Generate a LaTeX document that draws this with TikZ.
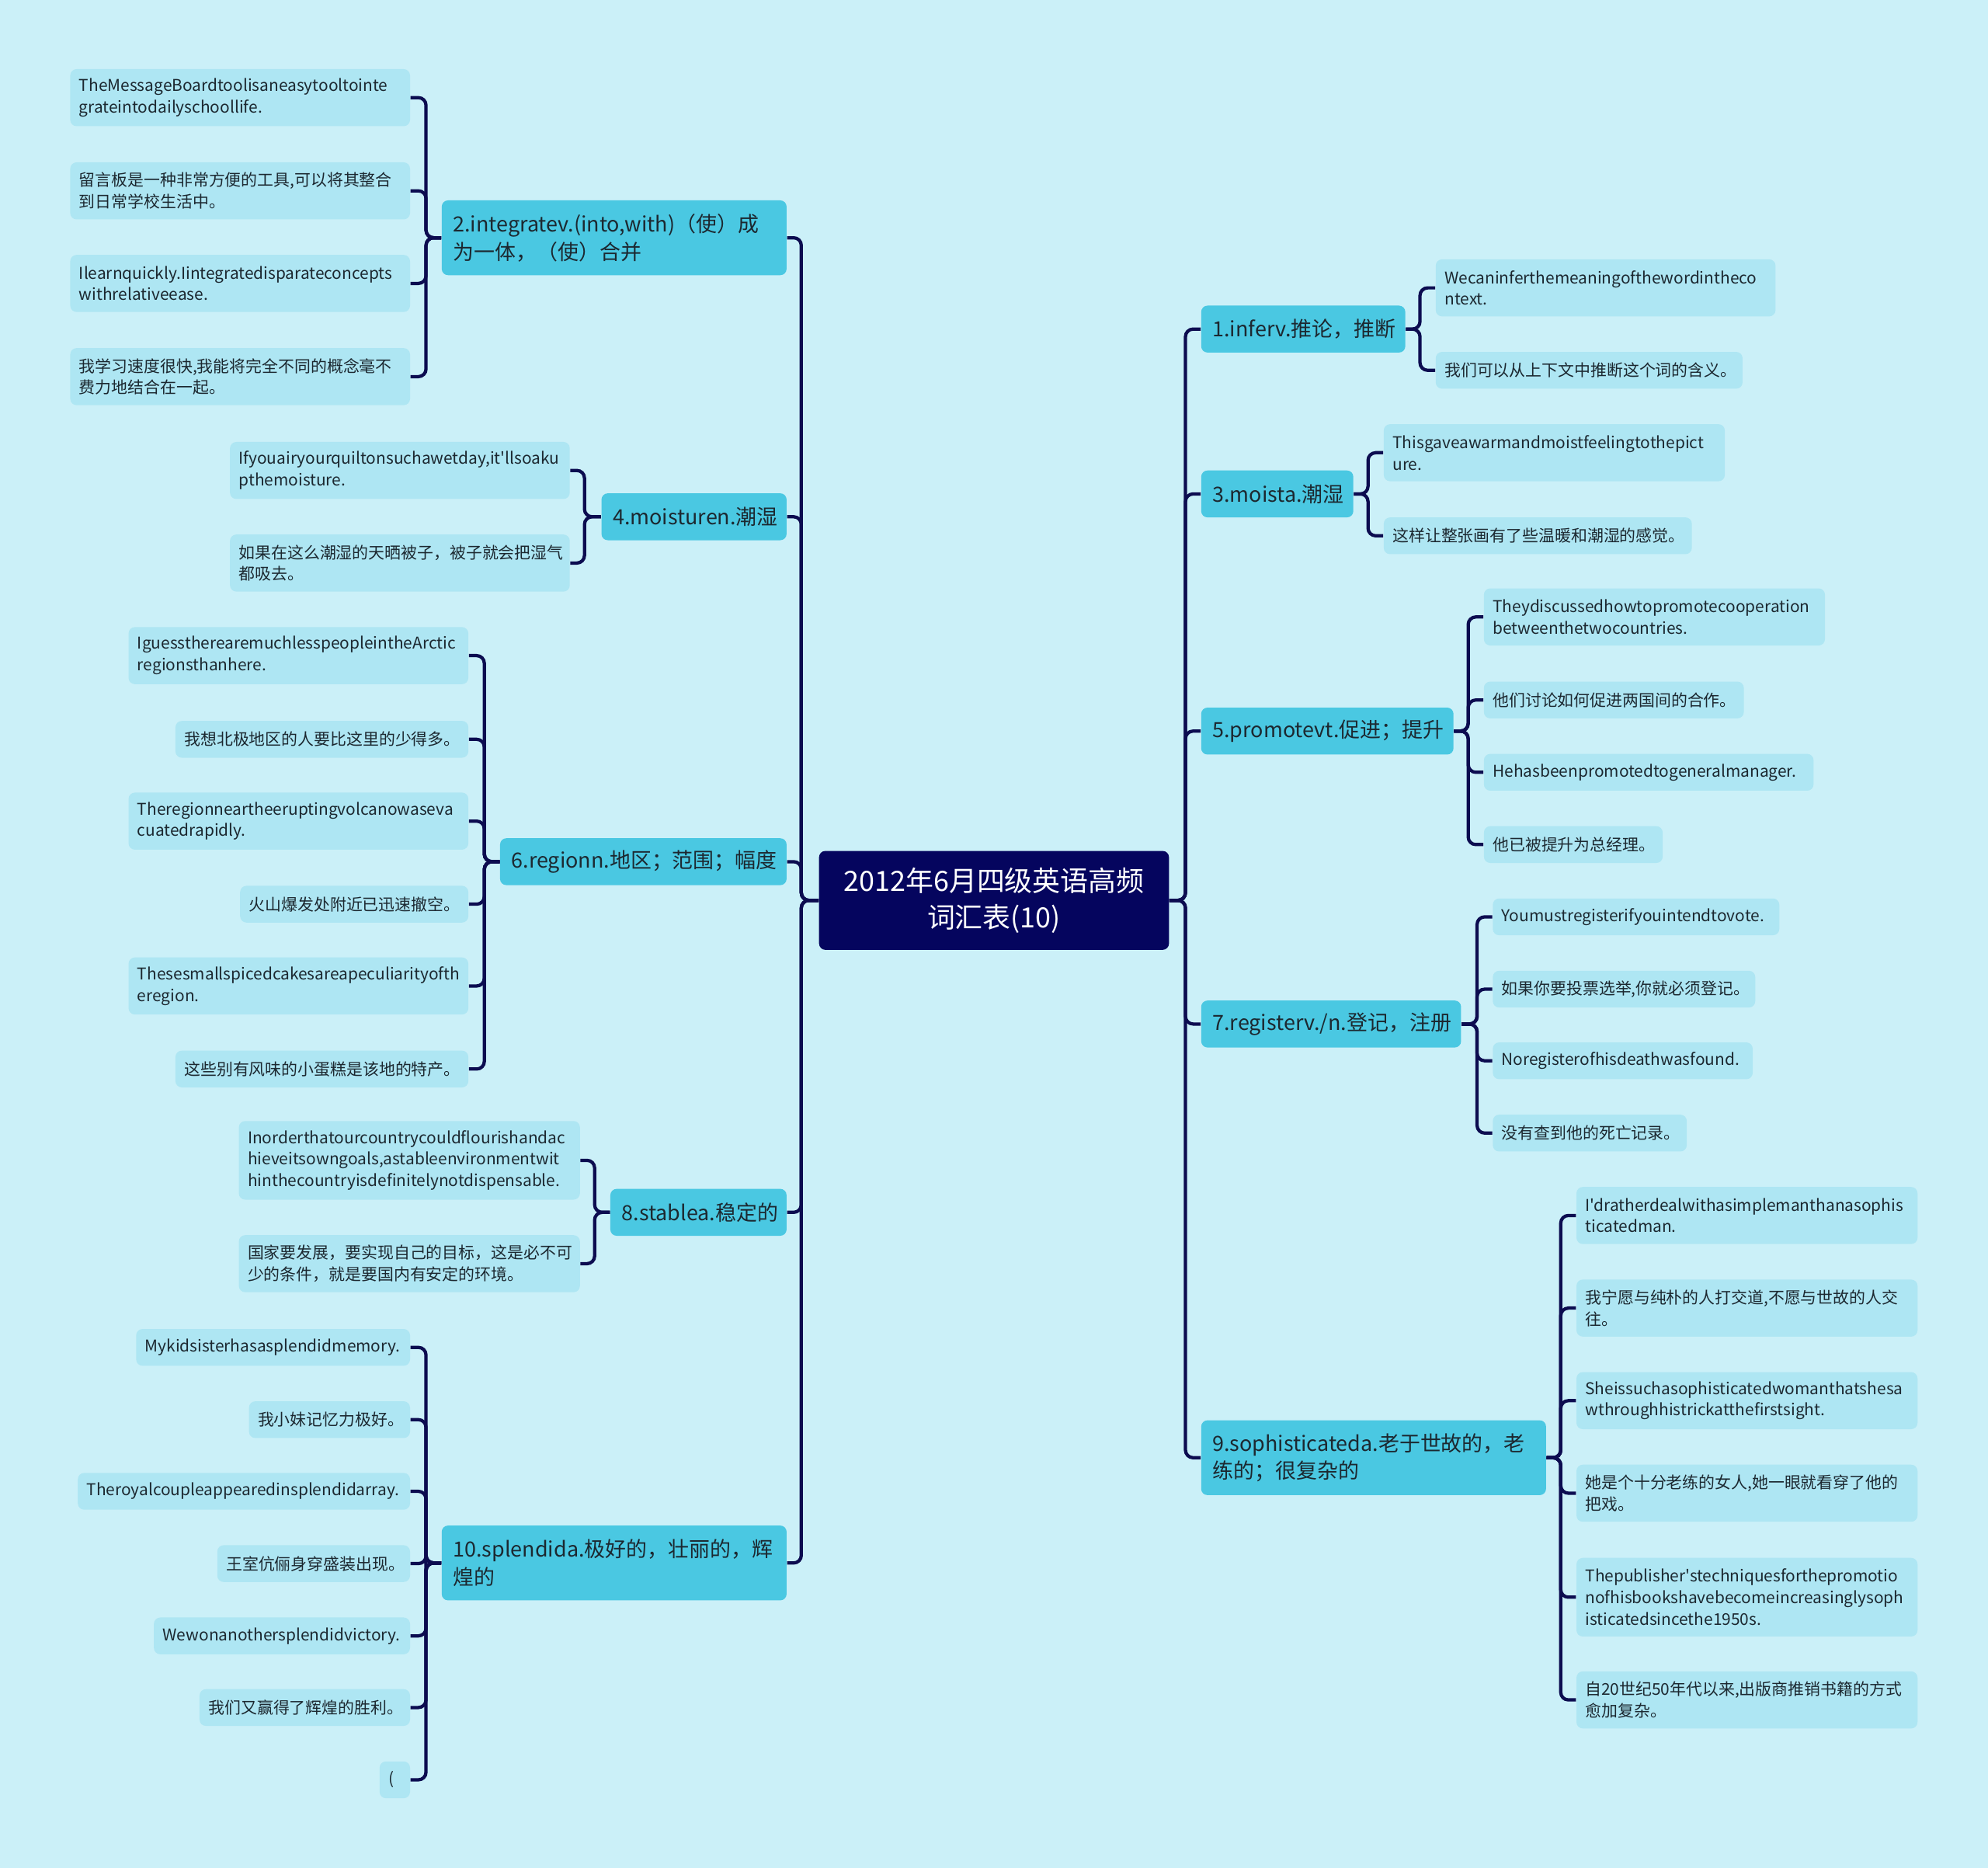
\documentclass[tikz,border=0pt]{standalone}
\usepackage{fontspec}
\newfontfamily\cjk{Noto Sans CJK SC}
\definecolor{bg}{HTML}{CBF0F8}
\definecolor{leaffill}{HTML}{AEE6F3}
\definecolor{branchfill}{HTML}{4AC8E2}
\definecolor{rootfill}{HTML}{05055E}
\definecolor{linec}{HTML}{0C0C50}
\definecolor{txt}{HTML}{1C2830}
\begin{document}
\begin{tikzpicture}[x=0.5pt,y=-0.5pt,
  box/.style={rectangle, rounded corners=2.5pt, inner ysep=0pt, align=left, anchor=west, text=txt},
  leaf/.style={box, fill=leaffill, inner xsep=3.5pt, font=\cjk\fontsize{6.4pt}{8.5pt}\selectfont},
  br/.style={box, fill=branchfill, inner xsep=4.5pt, font=\cjk\fontsize{8.25pt}{11pt}\selectfont},
  lw/.code={\pgfmathsetmacro\tw{#1-7}\edef\tmp{\noexpand\pgfkeysalso{minimum width=#1pt,text width=\tw pt}}\tmp},
  bw/.code={\pgfmathsetmacro\tw{#1-9}\edef\tmp{\noexpand\pgfkeysalso{minimum width=#1pt,text width=\tw pt}}\tmp},
  h1/.style={minimum height=14.5pt},
  h2/.style={minimum height=22.5pt},
  h3/.style={minimum height=31pt},
  bh1/.style={minimum height=18.5pt},
  bh2/.style={minimum height=29.5pt},
  rootbox/.style={rectangle, rounded corners=2.5pt, fill=rootfill, text=white, align=center,
     minimum width=138pt, minimum height=39pt, inner sep=0pt, font=\cjk\fontsize{11pt}{14.5pt}\selectfont},
  conn/.style={draw=linec, line width=1.3pt, rounded corners=3pt},
]
\fill[bg] (0,0) rectangle (1568,1473);
\useasboundingbox (0,0) rectangle (1568,1473);

% root
\node[rootbox] (root) at (784,710) {2012年6月四级英语高频\\词汇表(10)};

% left branches
\node[br, bw=136, bh2] (b2) at (348,187.5) {2.integratev.(into,with)（使）成\\为一体，（使）合并};
\node[br, bw=73, bh1] (b4) at (474,407.5) {4.moisturen.潮湿};
\node[br, bw=113, bh1] (b6) at (394,679.5) {6.regionn.地区；范围；幅度};
\node[br, bw=69.5, bh1] (b8) at (481,956) {8.stablea.稳定的};
\node[br, bw=136, bh2] (b10) at (348,1232.5) {10.splendida.极好的，壮丽的，辉\\煌的};

% right branches
\node[br, bw=80.5, bh1] (b1) at (947,259.5) {1.inferv.推论，推断};
\node[br, bw=60, bh1] (b3) at (947,389.5) {3.moista.潮湿};
\node[br, bw=99.5, bh1] (b5) at (947,576.5) {5.promotevt.促进；提升};
\node[br, bw=102.5, bh1] (b7) at (947,807.5) {7.registerv./n.登记，注册};
\node[br, bw=136, bh2] (b9) at (947,1149.5) {9.sophisticateda.老于世故的，老\\练的；很复杂的};

% left leaves
\node[leaf, lw=134, h2] (l2a) at (55,77) {TheMessageBoardtoolisaneasytooltointe\\grateintodailyschoollife.};
\node[leaf, lw=134, h2] (l2b) at (55,150.5) {留言板是一种非常方便的工具,可以将其整合\\到日常学校生活中。};
\node[leaf, lw=134, h2] (l2c) at (55,223.5) {Ilearnquickly.Iintegratedisparateconcepts\\withrelativeease.};
\node[leaf, lw=134, h2] (l2d) at (55,297) {我学习速度很快,我能将完全不同的概念毫不\\费力地结合在一起。};

\node[leaf, lw=134, h2] (l4a) at (181,371) {Ifyouairyourquiltonsuchawetday,it'llsoaku\\pthemoisture.};
\node[leaf, lw=134, h2] (l4b) at (181,444) {如果在这么潮湿的天晒被子，被子就会把湿气\\都吸去。};

\node[leaf, lw=134, h2] (l6a) at (101,517) {IguesstherearemuchlesspeopleintheArctic\\regionsthanhere.};
\node[leaf, lw=115.5, h1] (l6b) at (138,583) {我想北极地区的人要比这里的少得多。};
\node[leaf, lw=134, h2] (l6c) at (101,647.5) {Theregionneartheeruptingvolcanowaseva\\cuatedrapidly.};
\node[leaf, lw=90, h1] (l6d) at (189,713) {火山爆发处附近已迅速撤空。};
\node[leaf, lw=134, h2] (l6e) at (101,777.5) {Thesesmallspicedcakesareapeculiarityofth\\eregion.};
\node[leaf, lw=115.5, h1] (l6f) at (138,843) {这些别有风味的小蛋糕是该地的特产。};

\node[leaf, lw=134.5, h3] (l8a) at (188,915) {Inorderthatourcountrycouldflourishandac\\hieveitsowngoals,astableenvironmentwit\\hinthecountryisdefinitelynotdispensable.};
\node[leaf, lw=134.5, h2] (l8b) at (188,996.5) {国家要发展，要实现自己的目标，这是必不可\\少的条件，就是要国内有安定的环境。};

\node[leaf, lw=108, h1] (l10a) at (107,1062.5) {Mykidsisterhasasplendidmemory.};
\node[leaf, lw=63.5, h1] (l10b) at (196,1119.5) {我小妹记忆力极好。};
\node[leaf, lw=131, h1] (l10c) at (61,1176) {Theroyalcoupleappearedinsplendidarray.};
\node[leaf, lw=76, h1] (l10d) at (171,1233) {王室伉俪身穿盛装出现。};
\node[leaf, lw=101, h1] (l10e) at (121,1290) {Wewonanothersplendidvictory.};
\node[leaf, lw=83, h1] (l10f) at (157,1346.5) {我们又赢得了辉煌的胜利。};
\node[leaf, lw=12, h1] (l10g) at (299,1403.5) {(};

% right leaves
\node[leaf, lw=134, h2] (r1a) at (1132,227) {Wecaninferthemeaningofthewordintheco\\ntext.};
\node[leaf, lw=121, h1] (r1b) at (1132,292) {我们可以从上下文中推断这个词的含义。};
\node[leaf, lw=134.5, h2] (r3a) at (1091,357) {Thisgaveawarmandmoistfeelingtothepict\\ure.};
\node[leaf, lw=121.5, h1] (r3b) at (1091,422.5) {这样让整张画有了些温暖和潮湿的感觉。};
\node[leaf, lw=134.5, h2] (r5a) at (1170,486.5) {Theydiscussedhowtopromotecooperation\\betweenthetwocountries.};
\node[leaf, lw=102.5, h1] (r5b) at (1170,552) {他们讨论如何促进两国间的合作。};
\node[leaf, lw=130, h1] (r5c) at (1170,609) {Hehasbeenpromotedtogeneralmanager.};
\node[leaf, lw=70.5, h1] (r5d) at (1170,666) {他已被提升为总经理。};
\node[leaf, lw=113, h1] (r7a) at (1177,723) {Youmustregisterifyouintendtovote.};
\node[leaf, lw=103.5, h1] (r7b) at (1177,780) {如果你要投票选举,你就必须登记。};
\node[leaf, lw=102.5, h1] (r7c) at (1177,836.5) {Noregisterofhisdeathwasfound.};
\node[leaf, lw=76.5, h1] (r7d) at (1177,893.5) {没有查到他的死亡记录。};
\node[leaf, lw=134.5, h2] (r9a) at (1243,958.5) {I'dratherdealwithasimplemanthanasophis\\ticatedman.};
\node[leaf, lw=134.5, h2] (r9b) at (1243,1031.5) {我宁愿与纯朴的人打交道,不愿与世故的人交\\往。};
\node[leaf, lw=134.5, h2] (r9c) at (1243,1104.5) {Sheissuchasophisticatedwomanthatshesa\\wthroughhistrickatthefirstsight.};
\node[leaf, lw=134.5, h2] (r9d) at (1243,1177.5) {她是个十分老练的女人,她一眼就看穿了他的\\把戏。};
\node[leaf, lw=134.5, h3] (r9e) at (1243,1259.5) {Thepublisher'stechniquesforthepromotio\\nofhisbookshavebecomeincreasinglysoph\\isticatedsincethe1950s.};
\node[leaf, lw=134.5, h2] (r9f) at (1243,1340.5) {自20世纪50年代以来,出版商推销书籍的方式\\愈加复杂。};

% bracket coordinates
\coordinate (tL) at (632,0);
\coordinate (tR) at (935,0);
\coordinate (k2) at (336,0);
\coordinate (k4) at (461,0);
\coordinate (k6) at (382,0);
\coordinate (k8) at (469,0);
\coordinate (k10) at (336,0);
\coordinate (k1) at (1120,0);
\coordinate (k3) at (1079,0);
\coordinate (k5) at (1158,0);
\coordinate (k7) at (1165,0);
\coordinate (k9) at (1231,0);

% root to branches
\foreach \b in {b2,b4,b6,b8,b10}
  \draw[conn] (root.west) -- (root.west -| tL) |- (\b.east);
\foreach \b in {b1,b3,b5,b7,b9}
  \draw[conn] (root.east) -- (root.east -| tR) |- (\b.west);

% branches to leaves (left)
\foreach \l in {l2a,l2b,l2c,l2d}
  \draw[conn] (b2.west) -- (b2.west -| k2) |- (\l.east);
\foreach \l in {l4a,l4b}
  \draw[conn] (b4.west) -- (b4.west -| k4) |- (\l.east);
\foreach \l in {l6a,l6b,l6c,l6d,l6e,l6f}
  \draw[conn] (b6.west) -- (b6.west -| k6) |- (\l.east);
\foreach \l in {l8a,l8b}
  \draw[conn] (b8.west) -- (b8.west -| k8) |- (\l.east);
\foreach \l in {l10a,l10b,l10c,l10d,l10e,l10f,l10g}
  \draw[conn] (b10.west) -- (b10.west -| k10) |- (\l.east);

% branches to leaves (right)
\foreach \l in {r1a,r1b}
  \draw[conn] (b1.east) -- (b1.east -| k1) |- (\l.west);
\foreach \l in {r3a,r3b}
  \draw[conn] (b3.east) -- (b3.east -| k3) |- (\l.west);
\foreach \l in {r5a,r5b,r5c,r5d}
  \draw[conn] (b5.east) -- (b5.east -| k5) |- (\l.west);
\foreach \l in {r7a,r7b,r7c,r7d}
  \draw[conn] (b7.east) -- (b7.east -| k7) |- (\l.west);
\foreach \l in {r9a,r9b,r9c,r9d,r9e,r9f}
  \draw[conn] (b9.east) -- (b9.east -| k9) |- (\l.west);
\end{tikzpicture}
\end{document}
